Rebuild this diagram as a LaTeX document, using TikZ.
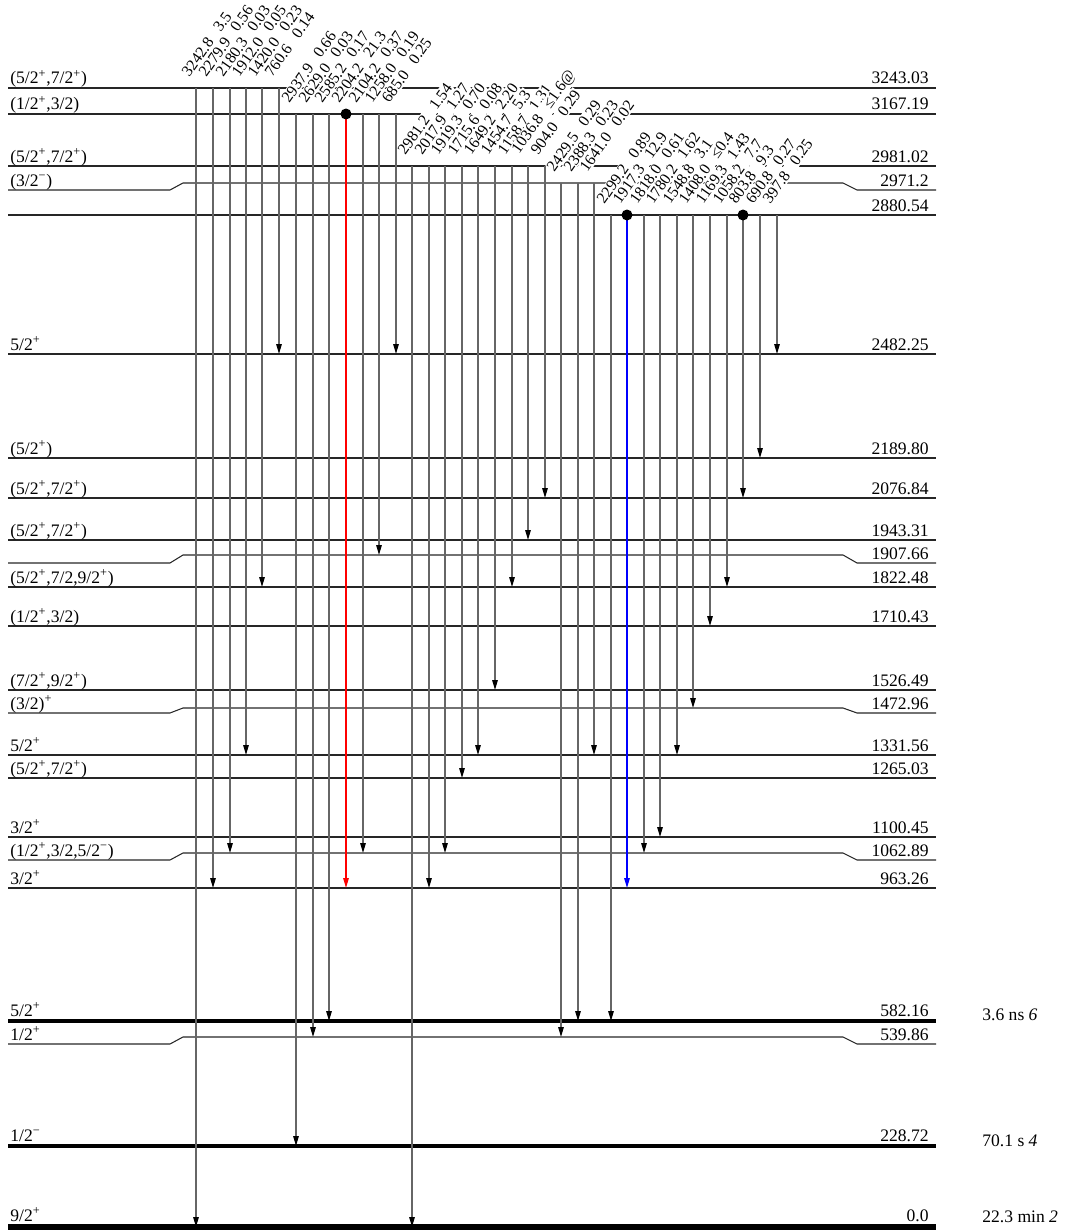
\documentclass[tikz,border=0pt]{standalone}
\usepackage{fontspec}
\setmainfont{Liberation Serif}
\usetikzlibrary{arrows.meta}
\colorlet{gline}{black!60}
\newcommand\spp{\textsuperscript{+}}
\newcommand\spm{\textsuperscript{−}}
\tikzset{
  lev/.style={draw=black!85, line width=0.75pt},
  levbent/.style={draw=black!85, line width=0.6pt},
  levthick/.style={draw=black, line width=#1},
  jpi/.style={anchor=base west, inner sep=0pt, font=\fontsize{10}{12}\selectfont},
  elab/.style={anchor=base east, inner sep=0pt, font=\fontsize{10}{12}\selectfont},
  thalf/.style={anchor=base west, inner sep=0pt, font=\fontsize{10}{12}\selectfont},
  glab/.style={anchor=south west, rotate=55, fill=white, inner sep=0.6pt, font=\fontsize{9}{11}\selectfont},
  gam/.style 2 args={draw=#1, line width=0.8pt,
    -{Triangle[length=2mm,width=1.1mm,color=#2]},
    preaction={draw=white, line width=1.6pt, -, shorten <=1pt, shorten >=1mm}},
  cdot/.style={circle, fill=black, inner sep=0pt, minimum size=2.2mm}
}
% x / start level / end level / energy / intensity / line colour / tip colour
\def\gammalist{
    196/88/1227/3242.8/3.5/gline/black,
    213/88/888/2279.9/0.56/gline/black,
    230/88/853/2180.3/0.03/gline/black,
    246/88/755/1912.0/0.05/gline/black,
    262/88/587/1420.0/0.23/gline/black,
    279/88/354/760.6/0.14/gline/black,
    296/114/1146/2937.9/0.66/gline/black,
    313/114/1037/2629.0/0.03/gline/black,
    329/114/1021/2585.2/0.17/gline/black,
    346/114/888/2204.2/21.3/red/red,
    363/114/853/2104.2/0.37/gline/black,
    379/114/555/1258.0/0.19/gline/black,
    396/114/354/685.0/0.25/gline/black,
    412/166/1227/2981.2/1.54/gline/black,
    429/166/888/2017.9/1.27/gline/black,
    445/166/853/1919.3/0.70/gline/black,
    462/166/778/1715.6/0.08/gline/black,
    478/166/755/1649.2/2.20/gline/black,
    495/166/690/1454.7/5.3/gline/black,
    512/166/587/1158.7/1.31/gline/black,
    528/166/540/1036.8/≤1.6@/gline/black,
    545/166/498/904.0/0.29/gline/black,
    561/183/1037/2429.5/0.29/gline/black,
    578/183/1021/2388.3/0.23/gline/black,
    594/183/755/1641.0/0.02/gline/black,
    611/215/1021/2299.2/0.89/gline/black,
    627/215/888/1917.3/12.9/blue/blue,
    644/215/853/1818.0/0.61/gline/black,
    660/215/837/1780.2/1.62/gline/black,
    677/215/755/1548.8/3.1/gline/black,
    693/215/708/1408.0/≤0.4/gline/black,
    710/215/626/1169.3/1.43/gline/black,
    727/215/587/1058.2/7.7/gline/black,
    743/215/498/803.8/9.3/gline/black,
    760/215/458/690.8/0.27/gline/black,
    777/215/354/397.8/0.25/gline/black}
\begin{document}
\begin{tikzpicture}[x=0.02cm, y=-0.02cm]
  \useasboundingbox (0,0) rectangle (1084,1230);

  % levels
  \foreach \y/\jp/\en [count=\k] in {
    88/{(5/2\spp,7/2\spp)}/3243.03,
    114/{(1/2\spp,3/2)}/3167.19,
    166/{(5/2\spp,7/2\spp)}/2981.02,
    215/{}/2880.54,
    354/{5/2\spp}/2482.25,
    458/{(5/2\spp)}/2189.80,
    498/{(5/2\spp,7/2\spp)}/2076.84,
    540/{(5/2\spp,7/2\spp)}/1943.31,
    587/{(5/2\spp,7/2,9/2\spp)}/1822.48,
    626/{(1/2\spp,3/2)}/1710.43,
    690/{(7/2\spp,9/2\spp)}/1526.49,
    755/{5/2\spp}/1331.56,
    778/{(5/2\spp,7/2\spp)}/1265.03,
    837/{3/2\spp}/1100.45,
    888/{3/2\spp}/963.26}{
    \draw[lev] (8,\y) -- (936,\y);
    \node[jpi] (jp\k) at (10,\y-4) {\jp};
    \node[elab] (el\k) at (929,\y-4) {\en};
  }
  \foreach \ye/\ym/\jp/\en [count=\k] in {
    190/183/{(3/2\spm)}/2971.2,
    563/555/{}/1907.66,
    713/708/{(3/2)\spp}/1472.96,
    860/853/{(1/2\spp,3/2,5/2\spm)}/1062.89,
    1044/1037/{1/2\spp}/539.86}{
    \draw[levbent] (8,\ye) -- (170,\ye) -- (183,\ym) -- (843,\ym) -- (857,\ye) -- (936,\ye);
    \node[jpi] (bjp\k) at (10,\ye-4) {\jp};
    \node[elab] (bel\k) at (929,\ye-4) {\en};
  }
  \draw[levthick=2pt] (8,1021) -- (936,1021);
  \draw[levthick=2pt] (8,1146) -- (936,1146);
  \draw[levthick=3pt] (8,1227) -- (936,1227);
  \node[jpi] (jp582) at (10,1016) {5/2\spp};
  \node[jpi] (jp228) at (10,1141) {1/2\spm};
  \node[jpi] (jp0) at (10,1221) {9/2\spp};
  \node[elab] (el582) at (929,1016) {582.16};
  \node[elab] (el228) at (929,1141) {228.72};
  \node[elab] (el0) at (929,1221) {0.0};
  \node[thalf] (hl582) at (982,1020) {3.6 ns \textit{6}};
  \node[thalf] (hl228) at (982,1146) {70.1 s \textit{4}};
  \node[thalf] (hl0) at (982,1222) {22.3 min \textit{2}};

  % gamma labels first, then the transitions
  \foreach \x/\ya/\yb/\en/\ig/\lc/\tc [count=\k] in \gammalist{
    \node[glab] (e\k) at (\x-6,\ya-8) {\en\hspace{6.5pt}\ig};
  }
  \foreach \x/\ya/\yb/\en/\ig/\lc/\tc [count=\k] in \gammalist{
    \coordinate (t\k-a) at (\x,\ya);
    \coordinate (t\k-b) at (\x,\yb);
    \draw[gam={\lc}{\tc}] (t\k-a) -- (t\k-b);
  }
  % coincidence dots
  \node[cdot] (c1) at (t10-a) {};
  \node[cdot] (c2) at (t27-a) {};
  \node[cdot] (c3) at (t34-a) {};
\end{tikzpicture}
\end{document}
